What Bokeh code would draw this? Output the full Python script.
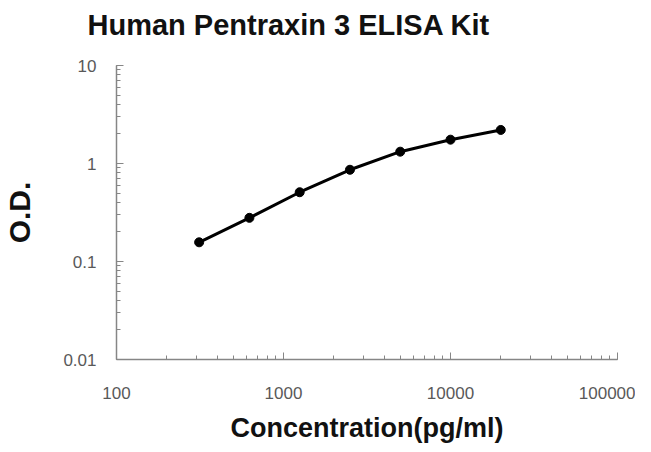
from bokeh.plotting import figure
from bokeh.models import LogTicker, CustomJSTickFormatter, Title
from bokeh.embed import file_html
from bokeh.resources import INLINE

# Data
conc = [312.5, 625, 1250, 2500, 5000, 10000, 20000]   # pg/ml
od = [0.157, 0.279, 0.509, 0.863, 1.32, 1.75, 2.2]    # O.D.

title_text = "Human Pentraxin 3 ELISA Kit"
x_label = "Concentration(pg/ml)"
y_label = "O.D."

p = figure(width=635, height=450, x_axis_type="log", y_axis_type="log",
           x_range=(100, 100000), y_range=(0.01, 10),
           output_backend="svg", toolbar_location=None,
           min_border_left=115, min_border_right=18,
           min_border_top=65, min_border_bottom=91)

# blank spacer between the frame and the title (pushes the title upward)
spacer = Title(text=" ", text_font_size="10px", standoff=10)
p.add_layout(spacer, "above")

p.title.text = title_text
p.title.text_font = "Liberation Sans"
p.title.text_font_style = "bold"
p.title.text_font_size = "29px"
p.title.text_color = "#111111"
p.title.align = "left"
p.title.vertical_align = "top"
p.title.standoff = 0
p.title.offset = -29

p.outline_line_color = None
p.xgrid.grid_line_color = None
p.ygrid.grid_line_color = None

fmt = CustomJSTickFormatter(code="return Number(tick.toPrecision(6)).toString();")

for ax in (p.xaxis[0], p.yaxis[0]):
    ax.ticker = LogTicker(num_minor_ticks=10, desired_num_ticks=4)
    ax.formatter = fmt
    ax.axis_line_color = "#868686"
    ax.axis_line_width = 1.5
    ax.major_tick_line_color = "#868686"
    ax.minor_tick_line_color = "#868686"
    ax.major_tick_in = 7
    ax.major_tick_out = 0
    ax.minor_tick_in = 4
    ax.minor_tick_out = 0
    ax.major_label_text_font = "Liberation Sans"
    ax.major_label_text_font_size = "17px"
    ax.major_label_text_color = "#595959"
    ax.axis_label_text_font = "Liberation Sans"
    ax.axis_label_text_font_style = "bold"
    ax.axis_label_text_color = "#111111"

p.xaxis.axis_label = x_label
p.yaxis.axis_label = y_label
p.xaxis.axis_label_text_font_size = "27px"
p.yaxis.axis_label_text_font_size = "30px"
p.yaxis.major_label_standoff = 20
p.xaxis.major_label_standoff = 27
p.yaxis.axis_label_standoff = 24
p.xaxis.axis_label_standoff = 11

p.line(conc, od, line_color="black", line_width=3)
p.scatter(conc, od, size=9, fill_color="black", line_color="black")

open("out.html", "w").write(file_html(p, INLINE))
